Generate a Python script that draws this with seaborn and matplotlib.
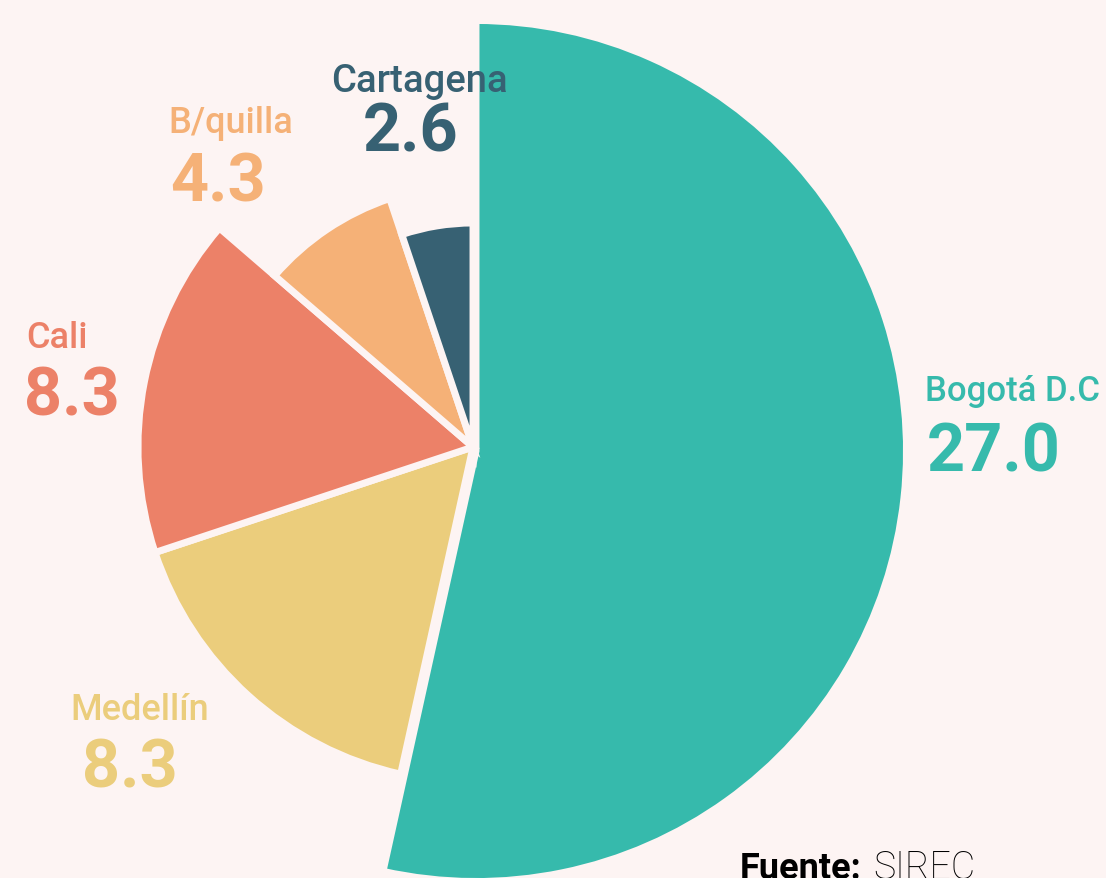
import numpy as np
import pandas as pd
import matplotlib
matplotlib.use("Agg")
import matplotlib.pyplot as plt
from matplotlib.patches import Wedge
import seaborn as sns

# ---- data ----
cities = ["Bogotá D.C", "Medellín", "Cali", "B/quilla", "Cartagena"]
values = [27.0, 8.3, 8.3, 4.3, 2.6]

# ---- style ----
colors = ["#36BAAC", "#EBCD7C", "#EC8168", "#F5B177", "#376173"]
radii_px = [430.5, 335, 335, 262, 224]
offset_px = [(3, -4), (0, 0), (0, 0), (0, 0), (0, 0)]
name_size = [25, 26, 26, 26, 27.5]
name_pos = [(925, 401, "left"), (140, 720, "center"), (26, 348, "left"),
            (231, 133, "center"), (419, 92, "center")]
num_pos = [(927, 472, "left"), (130, 788, "center"), (24, 415, "left"),
           (218, 202, "center"), (411, 152, "center")]
BG = "#FDF4F3"
W, H = 1106, 879

sns.set_theme(style="white", rc={"figure.facecolor": BG, "axes.facecolor": BG})
plt.rcParams["font.family"] = ["Roboto", "DejaVu Sans"]

df = pd.DataFrame({"city": cities, "value": values})
palette = sns.color_palette(colors)

fig = plt.figure(figsize=(W / 100, H / 100), dpi=100, facecolor=BG)
ax = fig.add_axes([0, 0, 1, 1])
ax.set_xlim(0, W)
ax.set_ylim(0, H)
ax.axis("off")

frac = df["value"] / df["value"].sum()
ends = 90 - 360 * frac.cumsum()
starts = ends + 360 * frac
cx, cy = 473, H - 448

for i, row in df.iterrows():
    t1, t2 = ends[i], starts[i]
    ox, oy = offset_px[i]
    w = Wedge((cx + ox, cy + oy), radii_px[i], t1, t2, facecolor=palette[i],
              edgecolor=BG, linewidth=5, joinstyle="miter", zorder=1)
    ax.add_patch(w)
    nx, ny, nha = name_pos[i]
    ax.text(nx, H - ny, row["city"], color=palette[i], fontsize=name_size[i],
            fontweight="medium", ha=nha, va="baseline", zorder=5)
    vx, vy, vha = num_pos[i]
    ax.text(vx, H - vy, f"{row['value']:.1f}", color=palette[i], fontsize=48,
            fontweight="bold", ha=vha, va="baseline", zorder=5)

ax.text(740, H - 879, "Fuente:", color="black", fontsize=26, fontweight="bold",
        ha="left", va="baseline", zorder=5)
ax.text(873, H - 879, "SIREC", color="black", fontsize=27, fontweight="light",
        ha="left", va="baseline", zorder=5)

fig.savefig("out.png", dpi=100, facecolor=BG)
